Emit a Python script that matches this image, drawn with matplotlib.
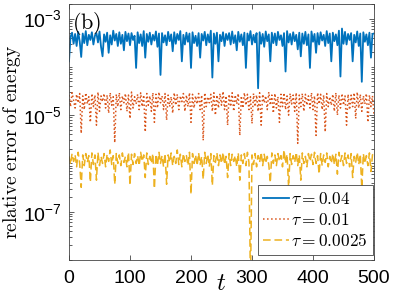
import numpy as np
import matplotlib
matplotlib.use("Agg")
import matplotlib.pyplot as plt
from matplotlib.font_manager import FontProperties
from matplotlib.ticker import LogLocator, NullFormatter, FixedLocator

# time grid (every 2.5 time units, 0..500)
t = np.linspace(0, 500, 201)

# relative energy error, tau = 0.04  (units of 1e-4)
err_004_e4 = [
    1.3, 4.2, 5.1, 3.0, 4.8, 2.7, 5.3, 3.4, 1.6, 4.9,
    3.1, 5.5, 2.8, 4.6, 3.6, 5.2, 2.9, 4.4, 5.0, 3.2,
    5.4, 2.6, 1.65, 4.7, 3.3, 5.1, 1.95, 4.5, 2.9, 5.6,
    3.5, 4.8, 2.7, 5.2, 3.0, 4.6, 2.2, 5.3, 3.4, 4.9,
    2.8, 5.0, 3.6, 4.4, 0.95, 5.2, 3.1, 4.7, 2.7, 5.5,
    1.55, 4.8, 3.3, 5.1, 2.9, 4.6, 3.5, 5.4, 2.6, 4.9,
    0.68, 5.0, 3.2, 4.5, 2.8, 5.3, 3.4, 4.7, 2.1, 5.2,
    3.0, 4.8, 3.6, 5.5, 1.3, 4.6, 2.9, 5.1, 3.3, 4.9,
    0.95, 5.2, 3.1, 4.4, 2.7, 5.0, 1.55, 4.8, 3.5, 5.3,
    2.8, 4.7, 3.2, 5.6, 0.6, 4.9, 3.0, 5.1, 1.3, 4.6,
    3.4, 5.2, 2.7, 4.8, 3.6, 5.0, 2.9, 5.4, 3.1, 4.5,
    2.2, 5.3, 3.3, 4.7, 2.8, 5.1, 0.95, 4.9, 3.5, 5.5,
    2.9, 4.6, 3.2, 5.0, 0.36, 5.2, 3.0, 4.8, 2.6, 5.4,
    3.4, 4.7, 1.3, 5.1, 3.1, 4.9, 2.8, 5.3, 3.6, 4.5,
    2.7, 5.0, 0.8, 5.5, 3.2, 4.8, 2.9, 5.2, 3.4, 4.6,
    2.3, 5.1, 1.65, 4.9, 3.0, 5.3, 2.8, 4.7, 0.95, 5.4,
    3.3, 4.8, 1.95, 5.0, 2.9, 5.2, 3.5, 4.6, 2.7, 5.5,
    3.1, 4.9, 1.3, 5.1, 3.4, 4.7, 2.8, 5.6, 0.63, 6.2,
    3.0, 5.3, 2.9, 4.8, 3.6, 5.0, 1.3, 4.6, 3.2, 5.4,
    2.7, 4.9, 0.49, 5.2, 3.3, 4.7, 2.8, 5.1, 1.55, 4.8,
    4.9]

# tau = 0.01  (units of 1e-5)
err_001_e5 = [
    2.6, 1.5, 2.9, 2.0, 1.4, 2.7, 1.8, 2.8, 0.42, 2.5,
    1.3, 2.9, 1.7, 2.4, 0.71, 2.8, 1.5, 2.6, 0.62, 3.0,
    1.2, 2.5, 1.9, 2.8, 1.4, 2.6, 1.1, 2.9, 1.6, 2.4,
    0.27, 2.7, 1.5, 2.9, 1.3, 2.5, 1.8, 2.8, 1.2, 2.6,
    0.85, 3.0, 1.4, 2.4, 1.7, 2.7, 1.3, 2.9, 1.5, 2.6,
    0.45, 2.8, 1.6, 2.5, 1.2, 2.9, 0.71, 2.7, 1.4, 3.0,
    1.8, 2.5, 1.3, 2.8, 0.79, 2.6, 1.5, 2.4, 1.1, 2.9,
    1.6, 2.7, 1.3, 2.5, 1.9, 2.8, 1.2, 2.6, 1.5, 2.9,
    0.71, 2.7, 1.4, 2.5, 1.7, 2.8, 1.3, 2.6, 0.3, 2.9,
    1.5, 2.4, 1.8, 2.7, 1.2, 2.9, 1.0, 2.6, 1.4, 2.8,
    1.6, 3.1, 1.3, 2.5, 0.62, 2.7, 1.5, 2.9, 1.2, 2.6,
    1.7, 2.8, 0.38, 2.5, 1.4, 2.9, 1.6, 2.7, 1.3, 2.4,
    0.67, 2.8, 1.5, 2.6, 1.2, 2.9, 0.62, 2.7, 1.8, 2.5,
    1.3, 3.0, 1.6, 2.6, 1.1, 2.8, 1.4, 2.4, 0.71, 2.7,
    1.5, 2.9, 1.3, 2.5, 1.0, 2.8, 1.7, 2.6, 1.2, 2.9,
    0.26, 2.6, 1.5, 2.8, 1.2, 2.7, 1.6, 2.5, 1.4, 2.9,
    1.3, 2.5, 0.38, 2.9, 1.7, 2.7, 1.3, 2.6, 0.45, 2.8,
    1.5, 2.4, 1.6, 2.7, 1.2, 2.9, 1.0, 2.6, 1.4, 2.8,
    1.6, 2.5, 0.62, 2.7, 1.3, 2.6, 1.5, 2.9, 0.85, 3.0,
    1.4, 2.7, 1.2, 2.5, 1.7, 2.8, 0.71, 2.6, 1.5, 2.5,
    1.0]

# tau = 0.0025  (units of 1e-6)
err_00025_e6 = [
    1.4, 0.95, 1.6, 1.1, 1.5, 0.85, 1.7, 1.0, 0.32, 1.5,
    0.9, 1.6, 1.05, 1.45, 0.41, 1.65, 0.95, 1.5, 0.45, 1.7,
    0.9, 1.4, 1.0, 1.6, 0.85, 1.55, 1.1, 1.9, 0.95, 1.45,
    0.37, 1.6, 1.0, 1.5, 0.9, 1.65, 1.05, 1.4, 0.85, 1.7,
    0.35, 1.55, 0.95, 1.6, 1.0, 1.45, 0.9, 1.7, 1.1, 1.5,
    0.51, 1.65, 0.95, 1.4, 1.0, 1.6, 0.3, 1.55, 0.9, 1.7,
    1.0, 1.45, 0.85, 1.6, 0.37, 1.5, 1.05, 1.65, 0.9, 1.4,
    1.0, 1.9, 0.95, 1.55, 0.85, 1.6, 1.1, 1.45, 0.9, 1.7,
    0.23, 1.6, 1.0, 1.5, 0.9, 1.65, 0.95, 1.4, 0.47, 1.7,
    1.0, 1.55, 0.85, 1.6, 0.35, 1.45, 1.05, 1.65, 0.9, 1.5,
    1.0, 1.7, 0.95, 1.4, 0.51, 1.6, 0.9, 1.55, 1.1, 1.45,
    0.85, 1.65, 0.45, 1.5, 1.0, 1.6, 0.9, 1.7, 1.05, 0.003,
    1.5, 0.95, 1.6, 0.85, 1.45, 1.05, 1.7, 0.9, 1.55, 1.0,
    1.4, 0.95, 0.4, 1.65, 1.0, 1.5, 0.9, 1.6, 1.1, 1.45,
    0.85, 1.9, 1.0, 1.55, 0.32, 1.6, 0.95, 1.45, 1.05, 1.7,
    0.9, 1.5, 0.45, 1.65, 1.0, 1.4, 0.85, 1.6, 1.1, 1.55,
    0.95, 1.7, 1.0, 1.45, 0.6, 1.6, 0.9, 1.5, 1.05, 1.65,
    0.85, 1.4, 1.0, 1.6, 0.95, 1.55, 0.6, 1.7, 1.1, 1.45,
    0.9, 1.65, 1.0, 1.5, 0.85, 1.6, 0.51, 1.4, 1.05, 1.7,
    0.95, 1.55, 0.3, 1.6, 1.0, 1.45, 0.9, 1.65, 0.68, 1.5,
    1.7]

labels = [r'$\tau = 0.04$', r'$\tau = 0.01$', r'$\tau = 0.0025$']
xticks = [0, 100, 200, 300, 400, 500]
yticks = [1e-3, 1e-5, 1e-7]
ytick_labels = [r'$\mathregular{10^{-3}}$', r'$\mathregular{10^{-5}}$', r'$\mathregular{10^{-7}}$']

c_blue, c_orange, c_yellow = '#0072BD', '#D95319', '#EDB120'

fig = plt.figure(figsize=(3.95, 2.96), dpi=100)
ax = fig.add_axes([69/395, 1-260/296, 305/395, 256/296])

ax.semilogy(t, np.array(err_004_e4)*1e-4, '-', color=c_blue, lw=1.3, label=labels[0])
ax.semilogy(t, np.array(err_001_e5)*1e-5, ':', color=c_orange, lw=1.1, label=labels[1])
ax.semilogy(t, np.array(err_00025_e6)*1e-6, '--', color=c_yellow, lw=1.1,
            dashes=(5, 2.5), label=labels[2])

ax.set_xlim(0, 500)
ax.set_ylim(1e-8, 2e-3)
ax.set_xticks(xticks)
ax.set_xticklabels([str(v) for v in xticks], fontfamily='Liberation Sans', fontsize=14)
ax.yaxis.set_major_locator(FixedLocator(yticks))
ax.yaxis.set_minor_locator(LogLocator(base=10, subs=np.arange(1, 10), numticks=20))
ax.yaxis.set_minor_formatter(NullFormatter())
ax.set_yticklabels(ytick_labels, fontfamily='Liberation Sans', fontsize=14)

for s in ax.spines.values():
    s.set_color('#444444')
    s.set_linewidth(0.6)
ax.tick_params(which='both', direction='in', top=True, right=True, color='#444444', width=0.6)
ax.tick_params(which='major', length=3.5)
ax.tick_params(axis='x', which='major', pad=7)
ax.tick_params(axis='y', which='major', pad=5)
ax.tick_params(which='minor', length=2)

ax.set_ylabel(r'$\mathrm{relative\ error\ of\ energy}$', fontsize=14, math_fontfamily='cm')
ax.yaxis.set_label_coords(-0.151, 0.46)
fig.text(221/395, 1-283/296, r'$t$', fontsize=18, math_fontfamily='cm', ha='center', va='center')
ax.text(0.01, 0.975, r'$\mathrm{(b)}$', transform=ax.transAxes, fontsize=16,
        math_fontfamily='cm', ha='left', va='top')

leg = ax.legend(loc='lower right', bbox_to_anchor=(0.997, 0.02), borderaxespad=0,
                prop=FontProperties(size=12.5, math_fontfamily='cm'),
                fancybox=False, framealpha=1, edgecolor='#444444',
                handlelength=1.5, handletextpad=0.15, labelspacing=0.15, borderpad=0.3)
leg.get_frame().set_linewidth(0.6)

fig.savefig('out.png', dpi=100)
